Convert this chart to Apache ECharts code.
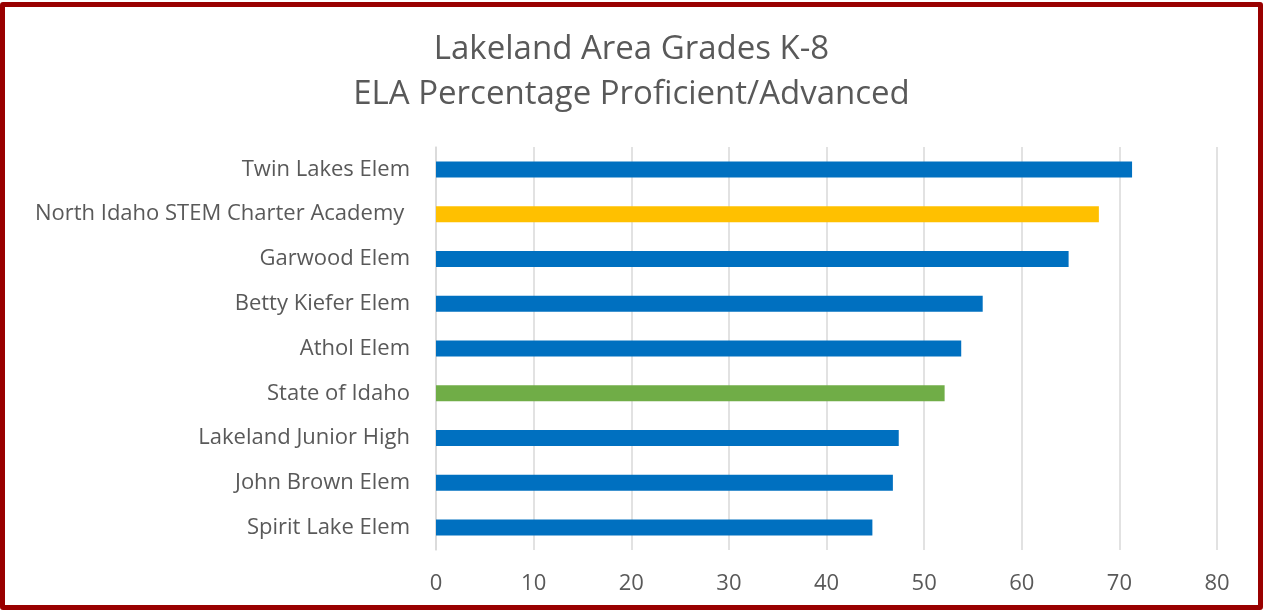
<!DOCTYPE html>
<html>
<head>
<meta charset="utf-8">
<title>Lakeland Area Grades K-8</title>
<script src="https://cdn.jsdelivr.net/npm/echarts@6/dist/echarts.min.js"></script>
<style>
    html, body { margin: 0; padding: 0; background: #fff; }
    #wrap { position: relative; width: 1263px; height: 610px; }
    #chart { width: 1263px; height: 610px; }
    #frame {
        position: absolute; left: 0; top: 2px; width: 1263px; height: 608px;
        box-sizing: border-box; border: 5px solid #990000; border-radius: 3px;
        pointer-events: none;
    }
</style>
</head>
<body>
<div id="wrap">
    <div id="chart"></div>
    <div id="frame"></div>
</div>
<script>
// schools, top to bottom
const schools = [
    'Twin Lakes Elem',
    'North Idaho STEM Charter Academy ',
    'Garwood Elem',
    'Betty Kiefer Elem',
    'Athol Elem',
    'State of Idaho',
    'Lakeland Junior High',
    'John Brown Elem',
    'Spirit Lake Elem'
];
const pctProficient = [71.3, 67.9, 64.8, 56.0, 53.8, 52.1, 47.4, 46.8, 44.7];
const barColors = ['#0070C0', '#FFC000', '#0070C0', '#0070C0', '#0070C0', '#70AD47', '#0070C0', '#0070C0', '#0070C0'];
const titleLines = ['Lakeland Area Grades K-8', 'ELA Percentage Proficient/Advanced'];

const fontFamily = '"Open Sans", "Noto Sans", sans-serif';
const chart = echarts.init(document.getElementById('chart'));
chart.setOption({
    animation: false,
    title: {
        text: titleLines.join('\n'),
        left: 'center',
        top: 22,
        textStyle: {
            color: '#595959',
            fontFamily: fontFamily,
            fontWeight: 'normal',
            fontSize: 33,
            lineHeight: 45
        }
    },
    grid: {
        left: 436,
        right: 46,
        top: 147,
        bottom: 60,
        containLabel: false
    },
    xAxis: {
        type: 'value',
        min: 0,
        max: 80,
        interval: 10,
        axisLine: { show: false },
        axisTick: { show: false },
        axisLabel: {
            color: '#595959',
            fontFamily: fontFamily,
            fontSize: 22,
            margin: 23
        },
        splitLine: { lineStyle: { color: '#D9D9D9', width: 1.5 } }
    },
    yAxis: {
        type: 'category',
        inverse: true,
        data: schools,
        axisLine: { show: true, lineStyle: { color: '#D9D9D9', width: 1.5 } },
        axisTick: { show: false },
        axisLabel: {
            color: '#595959',
            fontFamily: fontFamily,
            fontSize: 22,
            margin: 26
        }
    },
    series: [{
        type: 'bar',
        barWidth: 16,
        data: pctProficient.map((v, i) => ({ value: v, itemStyle: { color: barColors[i] } }))
    }]
});
</script>
</body>
</html>
